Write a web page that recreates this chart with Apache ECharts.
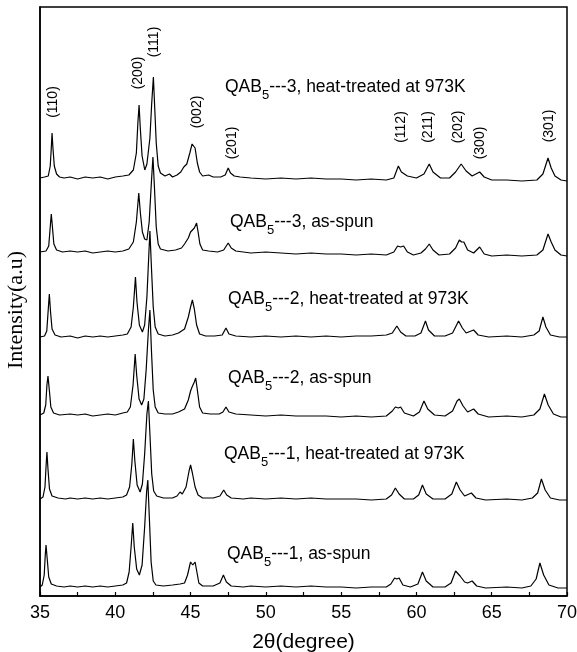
<!DOCTYPE html>
<html><head><meta charset="utf-8">
<script src="https://cdn.jsdelivr.net/npm/echarts@6/dist/echarts.min.js"></script>
<style>html,body{margin:0;padding:0;background:#fff}#c{width:577px;height:652px}</style>
</head><body><div id="c"></div>
<script>
// ---- data (2θ in degrees, intensity in arbitrary units above each pattern's own baseline) ----
const xTickValues = [35, 40, 45, 50, 55, 60, 65, 70];
const sampleLabels = [
  ['QAB', '5', '---1, as-spun'],
  ['QAB', '5', '---1, heat-treated at 973K'],
  ['QAB', '5', '---2, as-spun'],
  ['QAB', '5', '---2, heat-treated at 973K'],
  ['QAB', '5', '---3, as-spun'],
  ['QAB', '5', '---3, heat-treated at 973K']
];
// vertical stacking offsets of the six patterns (bottom to top)
const offsets = [9, 97, 181, 259, 344, 418];
const hklLabels = ['(110)', '(200)', '(111)', '(002)', '(201)', '(112)', '(211)', '(202)', '(300)', '(301)'];
const hklTheta = [35.86, 41.51, 42.57, 45.43, 47.75, 58.98, 60.77, 62.76, 64.22, 68.80];
const hklLevel = [494, 523, 554, 484, 453, 469, 469, 469, 453, 470];

const qab1AsSpun = [[35.0,0],[35.15,2],[35.28,12],[35.35,32],[35.4,42],[35.48,28],[35.58,10],[35.75,3],[36.1,1],[36.6,0],[37,1],[37.5,0],[38,1],[38.5,0],[39,1],[39.5,0],[40,1],[40.5,2],[40.75,4],[40.92,15],[41.05,40],[41.16,64],[41.26,40],[41.42,18],[41.6,12],[41.78,22],[41.95,60],[42.08,95],[42.16,107],[42.26,70],[42.38,25],[42.52,6],[42.7,2],[43.2,1],[43.8,2],[44.3,3],[44.6,4],[44.8,12],[44.95,22],[45.0,25],[45.15,22],[45.3,25],[45.42,15],[45.55,4],[45.8,1],[46.5,1],[46.95,4],[47.18,12],[47.38,5],[47.7,1],[48.5,0],[49,1],[50,0],[51,1],[52,0],[53,1],[54,0],[55,0],[56,-1],[57,0],[58,0],[58.3,3],[58.55,9],[58.7,8],[58.85,9],[59.1,2],[59.6,0],[60.1,3],[60.4,15],[60.65,6],[61.1,0],[61.9,0],[62.3,4],[62.6,16],[62.9,11],[63.2,5],[63.4,4],[63.7,6],[64.0,1],[64.6,-1],[66,0],[67,-1],[67.6,1],[67.95,8],[68.2,24],[68.45,12],[68.8,2],[69.4,-1],[70,-1]];
const qab1Heat = [[35.0,0],[35.2,2],[35.33,12],[35.4,32],[35.46,47],[35.53,30],[35.63,10],[35.8,3],[36.2,1],[36.7,0],[37,1],[37.5,0],[38,1],[38.5,0],[39,1],[39.5,0],[40,1],[40.5,2],[40.75,4],[40.95,12],[41.1,35],[41.2,60],[41.3,38],[41.45,14],[41.65,7],[41.8,15],[41.95,45],[42.1,85],[42.2,98],[42.3,65],[42.42,25],[42.55,8],[42.75,3],[43.2,1],[43.8,1],[44.1,3],[44.3,7],[44.45,5],[44.7,12],[44.9,28],[45.0,34],[45.12,26],[45.3,12],[45.5,4],[45.8,1],[46.5,1],[46.95,3],[47.2,9],[47.4,4],[47.7,1],[48.5,0],[49,1],[50,0],[51,1],[52,0],[53,1],[54,0],[55,0],[56,0],[57,-1],[58,0],[58.35,4],[58.6,11],[58.85,5],[59.2,0],[59.8,0],[60.15,4],[60.4,14],[60.65,5],[61.1,0],[61.9,0],[62.35,5],[62.65,17],[62.9,9],[63.2,3],[63.65,6],[63.95,1],[64.6,-1],[66,0],[67,-1],[67.7,1],[68.05,6],[68.3,20],[68.55,9],[68.9,1],[69.5,-1],[70,-1]];
const qab2AsSpun = [[35.0,0],[35.25,2],[35.38,10],[35.46,30],[35.53,39],[35.62,25],[35.72,8],[35.9,2],[36.3,0],[37,1],[37.5,0],[38,1],[38.5,-1],[39,0],[39.5,1],[40,0],[40.5,2],[40.8,3],[41.0,8],[41.18,30],[41.32,61],[41.42,40],[41.58,16],[41.75,10],[41.9,16],[42.05,45],[42.2,85],[42.3,105],[42.4,65],[42.52,25],[42.65,8],[42.85,2],[43.3,1],[43.8,1],[44.2,3],[44.6,6],[44.85,15],[45.0,24],[45.1,28],[45.25,33],[45.34,37],[45.45,25],[45.6,8],[45.8,2],[46.3,1],[46.9,1],[47.15,3],[47.35,8],[47.55,3],[48,1],[49,0],[50,-1],[51,0],[52,-1],[53,-1],[54,-1],[55,-2],[56,-1],[57,-2],[58,-1],[58.4,4],[58.6,8],[58.8,7],[58.95,8],[59.2,2],[59.8,-1],[60.2,3],[60.5,14],[60.75,6],[61.2,0],[61.9,-1],[62.4,4],[62.7,14],[62.85,16],[63.1,9],[63.4,3],[63.8,6],[64.1,1],[64.8,-2],[66,-1],[67,-2],[67.8,0],[68.2,6],[68.5,21],[68.75,10],[69.1,1],[69.6,-2],[70,-2]];
const qab2Heat = [[35.0,0],[35.3,1],[35.45,6],[35.55,28],[35.62,43],[35.7,25],[35.8,8],[36.0,2],[36.4,0],[37,1],[37.5,-1],[38,1],[38.5,0],[39,1],[39.5,0],[40,1],[40.5,2],[40.8,3],[41.05,10],[41.2,30],[41.34,60],[41.44,35],[41.6,12],[41.8,5],[41.95,12],[42.1,40],[42.22,80],[42.3,106],[42.4,70],[42.52,30],[42.65,10],[42.85,3],[43.3,1],[43.8,2],[44.2,4],[44.6,8],[44.85,20],[45.0,30],[45.12,37],[45.25,28],[45.4,12],[45.6,3],[46.0,1],[46.6,1],[47.1,2],[47.35,9],[47.55,3],[48,1],[49,0],[50,1],[51,0],[52,1],[53,0],[54,1],[55,0],[56,1],[57,1],[58,2],[58.4,4],[58.7,11],[58.95,5],[59.3,1],[59.9,1],[60.3,4],[60.6,16],[60.8,7],[61.2,1],[61.9,1],[62.4,4],[62.8,16],[63.05,9],[63.3,4],[63.8,7],[64.1,2],[64.8,0],[66,1],[67,0],[67.8,2],[68.15,6],[68.4,20],[68.6,10],[68.9,2],[69.5,0],[70,0]];
const qab3AsSpun = [[35.0,0],[35.4,1],[35.58,6],[35.68,25],[35.75,38],[35.82,26],[35.92,8],[36.1,2],[36.5,0],[37,1],[37.5,0],[38,1],[38.5,-1],[39,0],[39.5,1],[40,0],[40.5,1],[40.9,3],[41.2,10],[41.4,30],[41.56,59],[41.66,40],[41.8,20],[41.95,13],[42.1,12],[42.25,30],[42.4,70],[42.5,95],[42.6,65],[42.72,25],[42.85,8],[43.0,3],[43.5,1],[44.0,2],[44.4,4],[44.6,8],[44.85,14],[45.0,20],[45.1,22],[45.25,24],[45.4,29],[45.5,20],[45.62,8],[45.8,2],[46.2,1],[46.8,0],[47.2,2],[47.5,9],[47.7,4],[48,1],[48.5,0],[49,-1],[50,0],[51,-1],[52,-2],[53,-1],[54,-2],[55,-2],[56,-3],[57,-2],[58,-3],[58.5,0],[58.75,6],[58.95,5],[59.15,6],[59.4,0],[59.8,-3],[60.3,-1],[60.6,3],[60.85,8],[61.1,2],[61.5,-3],[62.2,-2],[62.6,4],[62.85,12],[63.0,10],[63.15,10],[63.4,2],[63.8,-1],[64.2,5],[64.5,-2],[65,-4],[66,-3],[67,-4],[68,-3],[68.4,2],[68.74,18],[68.95,10],[69.2,2],[69.6,-3],[70,-4]];
const qab3Heat = [[35.0,0],[35.3,1],[35.55,2],[35.68,12],[35.75,30],[35.8,45],[35.86,30],[35.95,12],[36.1,4],[36.3,1],[36.6,0],[37,1],[37.5,-1],[38,1],[38.5,0],[39,1],[39.5,-1],[40,1],[40.5,2],[40.9,3],[41.2,8],[41.4,25],[41.5,55],[41.58,73],[41.66,50],[41.78,22],[41.96,8],[42.1,14],[42.3,40],[42.42,75],[42.53,101],[42.62,70],[42.72,35],[42.85,12],[43.0,5],[43.3,2],[43.6,4],[43.8,1],[44.1,3],[44.35,6],[44.55,11],[44.75,14],[44.95,25],[45.1,34],[45.2,36],[45.3,30],[45.45,15],[45.6,6],[45.8,2],[46.2,3],[46.5,1],[47.0,1],[47.3,3],[47.5,10],[47.65,5],[47.9,2],[48.3,1],[49,0],[50,-1],[51,0],[52,-1],[53,0],[54,-1],[55,-1],[56,-2],[57,-1],[58,-2],[58.5,0],[58.8,12],[59.0,6],[59.4,2],[60.0,0],[60.5,4],[60.85,14],[61.1,6],[61.6,0],[62.2,0],[62.6,6],[62.97,14],[63.3,7],[63.7,2],[64.2,6],[64.5,1],[65,-2],[66,-2],[67,-3],[68,-2],[68.4,4],[68.74,20],[68.95,10],[69.2,2],[69.6,-2],[70,-3]];
const patterns = [qab1AsSpun, qab1Heat, qab2AsSpun, qab2Heat, qab3AsSpun, qab3Heat];

// ---- styling / layout ----
const SANS = 'Liberation Sans, Arial, sans-serif';
const SERIF = 'Liberation Serif, Times New Roman, serif';
const labelPos = [[227, 553], [224, 453], [228, 377], [228, 298], [230, 221], [225, 86]];

const chart = echarts.init(document.getElementById('c'), null, {renderer: 'canvas'});
const series = patterns.map((p, i) => ({
  type: 'line',
  data: p.map(([x, h]) => [x, offsets[i] + h]),
  showSymbol: false,
  symbol: 'none',
  silent: true,
  lineStyle: {color: '#000', width: 1.2},
  z: 3
}));

chart.setOption({
  animation: false,
  backgroundColor: '#fff',
  grid: {left: 40, right: 10, top: 7, bottom: 56, show: true, borderColor: '#000', borderWidth: 1.5,
         containLabel: false, outerBoundsMode: 'none'},
  xAxis: {
    type: 'value', min: 35, max: 70, interval: 5,
    axisLine: {show: true, lineStyle: {color: '#000', width: 1.5}},
    axisTick: {show: true, inside: true, length: 4, lineStyle: {color: '#000', width: 1.2}},
    minorTick: {show: true, splitNumber: 2, length: 4, lineStyle: {color: '#000', width: 1.2}},
    splitLine: {show: false}, minorSplitLine: {show: false},
    axisLabel: {color: '#000', fontSize: 18, fontFamily: SANS, margin: 8,
                formatter: v => xTickValues.includes(v) ? String(v) : ''},
    name: '2θ(degree)', nameLocation: 'middle', nameGap: 36,
    nameTextStyle: {color: '#000', fontSize: 21, fontFamily: SANS}
  },
  yAxis: {
    type: 'value', min: 0, max: 589,
    axisLine: {show: true, lineStyle: {color: '#000', width: 1.5}},
    axisTick: {show: false}, axisLabel: {show: false}, splitLine: {show: false}
  },
  series: series
});

const graphics = [];
// y-axis title, centred where the reference puts it
graphics.push({
  type: 'text', x: 16, y: 310, rotation: Math.PI / 2, silent: true,
  style: {text: 'Intensity(a.u)', fontSize: 22, fontFamily: SERIF, fill: '#000', align: 'center', verticalAlign: 'middle'}
});
sampleLabels.forEach((lab, i) => {
  graphics.push({
    type: 'text', left: labelPos[i][0], top: labelPos[i][1] - 8, z: 10, silent: true,
    style: {
      text: '{a|' + lab[0] + '}{s|' + lab[1] + '}{a|' + lab[2] + '}',
      rich: {
        a: {fontSize: 17.5, fontFamily: SANS, fill: '#000', verticalAlign: 'middle', lineHeight: 30},
        s: {fontSize: 13, fontFamily: SANS, fill: '#000', verticalAlign: 'bottom', lineHeight: 30}
      }
    }
  });
});
hklLabels.forEach((t, i) => {
  const pt = chart.convertToPixel({gridIndex: 0}, [hklTheta[i], hklLevel[i]]);
  graphics.push({
    type: 'text', x: pt[0], y: pt[1], rotation: Math.PI / 2, z: 10, silent: true,
    style: {text: t, fontSize: 14, fontFamily: SANS, fill: '#000', align: 'center', verticalAlign: 'middle'}
  });
});
chart.setOption({graphic: graphics});
</script>
</body></html>
